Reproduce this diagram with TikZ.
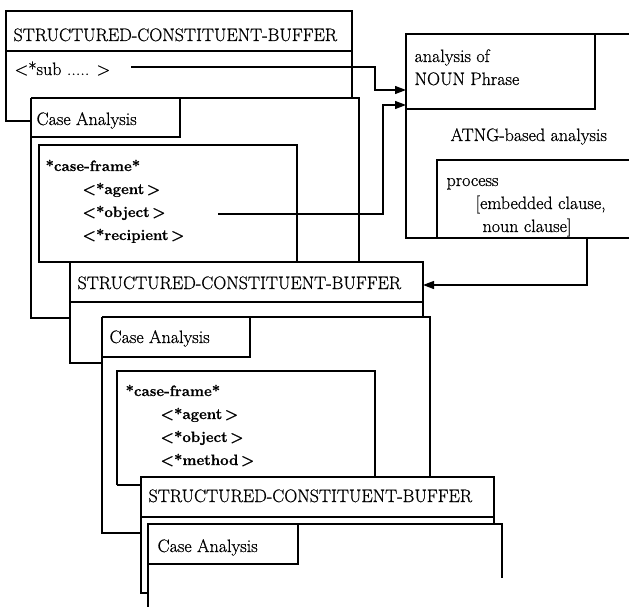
\documentclass[tikz,border=0pt]{standalone}
\usepackage{fontspec}
\usepackage{tikz}
\usetikzlibrary{arrows.meta}

\newfontfamily\scanfont{Latin Modern Roman}[FakeBold=0.7]

\tikzset{
  txt/.style={anchor=base west, inner sep=0pt, font=\scanfont\fontsize{18}{21}\selectfont},
  slot/.style={anchor=base west, inner sep=0pt, font=\scanfont\fontsize{15}{18}\selectfont\bfseries},
  arr/.style={-{Triangle[length=11pt,width=8pt]}},
}

\begin{document}
\begin{tikzpicture}[x=1pt,y=-1pt,line width=1.2pt]
      \useasboundingbox (0,0) rectangle (629,607);

      % first buffer with its case analysis
      \draw (6,11) rectangle (352,51);
      \draw (6,51) -- (6,121) -- (31,121);
      \draw (352,51) -- (352,98);
      \draw (31,98) -- (359,98) -- (359,262);
      \draw (31,98) -- (31,318) -- (70,318);
      \draw (180,98) -- (180,137) -- (31,137);
      \draw (39,145) rectangle (297,262);

      %write buffer 1
      \node[txt] (scb1) at (13,41) {STRUCTURED-CONSTITUENT-BUFFER};
      \node[txt] (sub) at (14,75) {\textless*sub ..... \textgreater};
      \node[txt] (ca1) at (36,125) {Case Analysis};
      \node[slot] (cf1) at (45,171) {*case-frame*};
      \node[slot] (ag1) at (82,194) {\textless*agent\,\textgreater};
      \node[slot] (ob1) at (82,217) {\textless*object\,\textgreater};
      \node[slot] (re1) at (82,240) {\textless*recipient\,\textgreater};

      % second buffer
      \draw (70,262) rectangle (423,302);
      \draw (70,302) -- (70,363) -- (102,363);
      \draw (423,302) -- (423,317);
      \draw (102,317) -- (430,317) -- (430,477);
      \draw (102,317) -- (102,533) -- (141,533);
      \draw (250,317) -- (250,357) -- (102,357);
      \draw (117,485) -- (117,371) -- (375,371) -- (375,477);
      \draw (117,485) -- (141,485);

      %write buffer 2
      \node[txt] (scb2) at (77,289) {STRUCTURED-CONSTITUENT-BUFFER};
      \node[txt] (ca2) at (109,343) {Case Analysis};
      \node[slot] (cf2) at (125,396) {*case-frame*};
      \node[slot] (ag2) at (160,419) {\textless*agent\,\textgreater};
      \node[slot] (ob2) at (160,442) {\textless*object\,\textgreater};
      \node[slot] (me2) at (160,465) {\textless*method\,\textgreater};

      % third buffer
      \draw (141,477) rectangle (494,517);
      \draw (141,517) -- (141,593) -- (148,593);
      \draw (494,517) -- (494,524);
      \draw (148,607) -- (148,524) -- (502,524) -- (502,578);
      \draw (298,524) -- (298,564) -- (148,564);

      %write buffer 3
      \node[txt] (scb3) at (148,502) {STRUCTURED-CONSTITUENT-BUFFER};
      \node[txt] (ca3) at (157,552) {Case Analysis};

      % ATNG box on the right
      \draw (629,34) -- (406,34) -- (406,238) -- (629,238);
      \draw (406,109) -- (595,109) -- (595,34);
      \draw (629,160) -- (437,160) -- (437,238);

      %write ATNG part
      \node[txt] (an) at (414,62) {analysis of};
      \node[txt] (np) at (414,85) {NOUN Phrase};
      \node[txt] (atng) at (450,141) {ATNG-based analysis};
      \node[txt] (pr) at (446,186) {process};
      \node[txt] (emb) at (475,209) {[embedded clause,};
      \node[txt] (nc) at (482,232) {noun clause]};

      % end points of the arrows
      \coordinate (subR) at (131,67);
      \coordinate (obR) at (218,214);
      \coordinate (npA) at (406,90);
      \coordinate (npB) at (406,105);
      \coordinate (atB) at (587,238);
      \coordinate (scb2R) at (423,285);

      % arrows
      \draw[arr] (subR) -- (375,67) -- (375,90) -- (npA);
      \draw[arr] (obR) -- (383,214) -- (383,105) -- (npB);
      \draw[arr] (atB) -- (587,285) -- (scb2R);
\end{tikzpicture}
\end{document}
